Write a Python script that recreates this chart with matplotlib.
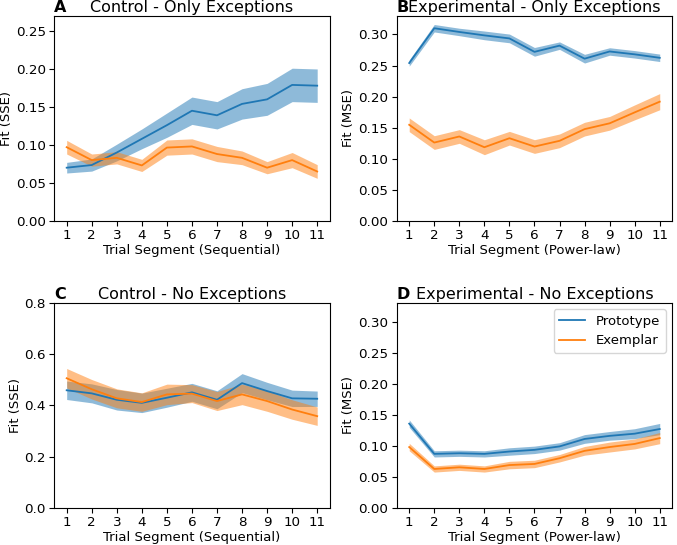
import matplotlib
matplotlib.use('Agg')
import matplotlib.pyplot as plt
import numpy as np

x = np.arange(1, 12)

# A: Control - Only Exceptions
a_proto = [0.070, 0.0735, 0.090, 0.108, 0.126, 0.145, 0.139, 0.154, 0.160, 0.179, 0.178]
a_proto_err = [0.007, 0.008, 0.011, 0.013, 0.016, 0.018, 0.018, 0.020, 0.021, 0.022, 0.022]
a_exem = [0.097, 0.080, 0.083, 0.073, 0.0965, 0.098, 0.088, 0.083, 0.070, 0.080, 0.065]
a_exem_err = [0.009, 0.008, 0.008, 0.008, 0.010, 0.010, 0.010, 0.009, 0.008, 0.010, 0.009]

# B: Experimental - Only Exceptions
b_proto = [0.254, 0.310, 0.304, 0.2985, 0.2936, 0.272, 0.282, 0.261, 0.2726, 0.268, 0.2624]
b_proto_err = [0.005, 0.006, 0.006, 0.007, 0.007, 0.007, 0.006, 0.007, 0.006, 0.006, 0.006]
b_exem = [0.1546, 0.126, 0.1358, 0.1185, 0.133, 0.1196, 0.1288, 0.1476, 0.157, 0.1746, 0.1918]
b_exem_err = [0.011, 0.011, 0.011, 0.012, 0.011, 0.011, 0.011, 0.011, 0.011, 0.012, 0.013]

# C: Control - No Exceptions
c_proto = [0.459, 0.447, 0.422, 0.410, 0.430, 0.451, 0.422, 0.487, 0.456, 0.4276, 0.426]
c_proto_err = [0.036, 0.037, 0.040, 0.038, 0.037, 0.035, 0.035, 0.037, 0.034, 0.032, 0.030]
c_exem = [0.506, 0.463, 0.4276, 0.413, 0.443, 0.446, 0.417, 0.443, 0.417, 0.384, 0.358]
c_exem_err = [0.038, 0.038, 0.037, 0.036, 0.040, 0.035, 0.037, 0.040, 0.040, 0.038, 0.036]

# D: Experimental - No Exceptions
d_proto = [0.1357, 0.087, 0.088, 0.087, 0.0908, 0.0935, 0.099, 0.111, 0.116, 0.1195, 0.127]
d_proto_err = [0.006, 0.005, 0.005, 0.005, 0.006, 0.006, 0.006, 0.007, 0.007, 0.008, 0.009]
d_exem = [0.098, 0.0627, 0.0654, 0.0627, 0.069, 0.0708, 0.080, 0.0919, 0.098, 0.103, 0.1124]
d_exem_err = [0.006, 0.005, 0.005, 0.005, 0.006, 0.006, 0.006, 0.007, 0.008, 0.008, 0.009]

panels = [
    ('A', 'Control - Only Exceptions', 'Fit (SSE)', 'Trial Segment (Sequential)',
     a_proto, a_proto_err, a_exem, a_exem_err, 0.27, 0.05),
    ('B', 'Experimental - Only Exceptions', 'Fit (MSE)', 'Trial Segment (Power-law)',
     b_proto, b_proto_err, b_exem, b_exem_err, 0.33, 0.05),
    ('C', 'Control - No Exceptions', 'Fit (SSE)', 'Trial Segment (Sequential)',
     c_proto, c_proto_err, c_exem, c_exem_err, 0.8, 0.2),
    ('D', 'Experimental - No Exceptions', 'Fit (MSE)', 'Trial Segment (Power-law)',
     d_proto, d_proto_err, d_exem, d_exem_err, 0.33, 0.05),
]

fig, axes = plt.subplots(2, 2, figsize=(6.77, 5.45), dpi=100)
fig.subplots_adjust(left=0.080, right=0.993, top=0.971, bottom=0.068, wspace=0.243, hspace=0.40)

for ax, (letter, title, ylab, xlab, p, pe, e, ee, ytop, ystep) in zip(axes.flat, panels):
    p, pe, e, ee = map(np.array, (p, pe, e, ee))
    ax.plot(x, p, color='tab:blue', lw=1.3, label='Prototype')
    ax.fill_between(x, p - pe, p + pe, color='tab:blue', alpha=0.5, lw=0)
    ax.plot(x, e, color='tab:orange', lw=1.3, label='Exemplar')
    ax.fill_between(x, e - ee, e + ee, color='tab:orange', alpha=0.5, lw=0)
    ax.set_xticks(x)
    ax.set_ylim(0, ytop)
    ticks = np.arange(0, ytop + 1e-9, ystep)
    ax.set_yticks(ticks)
    fmt = '%.2f' if ystep < 0.1 else '%.1f'
    ax.set_yticklabels([fmt % v for v in ticks])
    ax.set_ylabel(ylab, fontsize=9.5, labelpad=2)
    ax.set_xlabel(xlab, fontsize=9.5, labelpad=1)
    ax.set_title(title, fontsize=11.5, pad=2.5)
    ax.set_title(letter, loc='left', fontweight='bold', fontsize=11.5, pad=2.5)
    ax.tick_params(labelsize=9.7, pad=2.5)

axes[1, 1].legend(loc='upper right', fontsize=9.5)

plt.savefig('out.png')
